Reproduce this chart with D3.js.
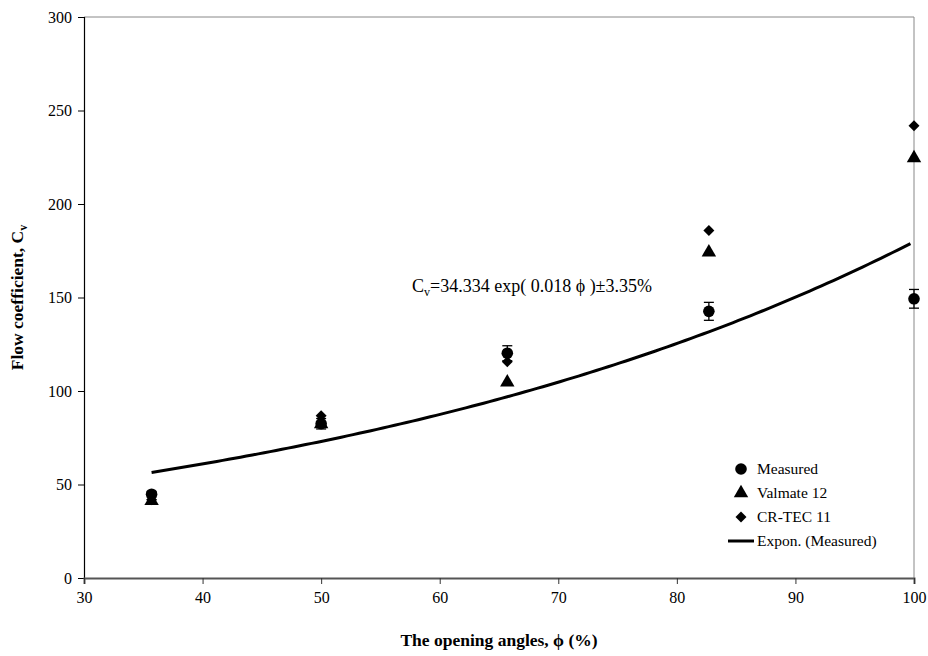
<!DOCTYPE html>
<html><head><meta charset="utf-8">
<script src="https://cdn.jsdelivr.net/npm/d3@7"></script>
<style>body{margin:0;background:#fff}svg{display:block}</style>
</head><body><svg id="c" width="928" height="656"></svg>
<script>
const phi = [35.7, 50, 65.7, 82.7, 100];
const measured = [44.8, 82.5, 120.2, 142.6, 149.3];
const measuredErr = [1.5, 2.8, 4.0, 4.8, 5.0];
const valmate = [41.2, 82.3, 104.6, 174.2, 224.6];
const crtec = [41.8, 86.8, 115.6, 185.8, 241.8];
const xTicks = [30, 40, 50, 60, 70, 80, 90, 100];
const yTicks = [0, 50, 100, 150, 200, 250, 300];
const legendLabels = ["Measured", "Valmate 12", "CR-TEC 11", "Expon. (Measured)"];

const FONT = "'Liberation Serif', 'Times New Roman', serif";
const svg = d3.select("#c");
const M = {l:84, r:914, t:17, b:578};
const x = d3.scaleLinear().domain([30,100]).range([M.l, M.r]);
const y = d3.scaleLinear().domain([0,300]).range([M.b, M.t]);

svg.append("line").attr("x1",M.l).attr("x2",M.r).attr("y1",M.t).attr("y2",M.t).attr("stroke","#888").attr("stroke-width",1);
svg.append("line").attr("x1",M.r).attr("x2",M.r).attr("y1",M.t).attr("y2",M.b).attr("stroke","#888").attr("stroke-width",1);

const yAxis = svg.append("g").attr("transform",`translate(${M.l},0)`)
  .call(d3.axisLeft(y).tickValues(yTicks).tickSize(6).tickPadding(6));
yAxis.select(".domain").attr("stroke","#000").attr("stroke-width",1.2);
yAxis.selectAll("text").attr("fill","#000").style("font-family",FONT).style("font-size","16px");
const xAxis = svg.append("g").attr("transform",`translate(0,${M.b})`)
  .call(d3.axisBottom(x).tickValues(xTicks).tickSize(6).tickPadding(8));
xAxis.select(".domain").attr("stroke","#555").attr("stroke-width",2);
xAxis.selectAll(".tick line").attr("stroke","#333");
xAxis.selectAll("text").attr("fill","#000").style("font-family",FONT).style("font-size","16px");

// trend: exponential regression of measured
const lx = phi, ly = measured.map(Math.log);
const mx = d3.mean(lx), my = d3.mean(ly);
const b = d3.sum(lx.map((v,i)=>(v-mx)*(ly[i]-my))) / d3.sum(lx.map(v=>(v-mx)*(v-mx)));
const a = Math.exp(my - b*mx);
const xs = d3.range(phi[0], phi[phi.length-1]+0.001, 0.5);
svg.append("path").datum(xs)
  .attr("d", d3.line().x(d=>x(d)).y(d=>y(a*Math.exp(b*d))))
  .attr("fill","none").attr("stroke","#000").attr("stroke-width",3);

const tri = d3.symbol().type(d3.symbolTriangle).size(90);
const dia = d3.symbol().type(d3.symbolSquare).size(60);

svg.selectAll(".tri").data(phi).join("path")
  .attr("d", tri).attr("transform",(d,i)=>`translate(${x(d)},${y(valmate[i])})`).attr("fill","#000");
svg.selectAll(".dia").data(phi).join("path")
  .attr("d", dia).attr("transform",(d,i)=>`translate(${x(d)},${y(crtec[i])}) rotate(45)`).attr("fill","#000");
phi.forEach((d,i)=>{
  const cx = x(d), y1 = y(measured[i]+measuredErr[i]), y2 = y(measured[i]-measuredErr[i]);
  const g = svg.append("g").attr("stroke","#000").attr("stroke-width",1.3);
  g.append("line").attr("x1",cx).attr("x2",cx).attr("y1",y1).attr("y2",y2);
  g.append("line").attr("x1",cx-5).attr("x2",cx+5).attr("y1",y1).attr("y2",y1);
  g.append("line").attr("x1",cx-5).attr("x2",cx+5).attr("y1",y2).attr("y2",y2);
});
svg.selectAll(".circ").data(phi).join("circle")
  .attr("cx",d=>x(d)).attr("cy",(d,i)=>y(measured[i])).attr("r",5.8).attr("fill","#000");

// legend
const lg = svg.append("g");
const ly0 = 469, dy = 24, lxm = 741;
lg.append("circle").attr("cx",lxm).attr("cy",ly0).attr("r",5.8).attr("fill","#000");
lg.append("path").attr("d",tri).attr("transform",`translate(${lxm},${ly0+dy})`).attr("fill","#000");
lg.append("path").attr("d",dia).attr("transform",`translate(${lxm},${ly0+2*dy}) rotate(45)`).attr("fill","#000");
lg.append("line").attr("x1",lxm-13).attr("x2",lxm+13).attr("y1",ly0+3*dy).attr("y2",ly0+3*dy).attr("stroke","#000").attr("stroke-width",3);
legendLabels.forEach((t,i)=>{
  lg.append("text").attr("x",757).attr("y",ly0+i*dy).attr("dy","0.35em")
    .style("font-family",FONT).style("font-size","15.5px").text(t);
});

// annotation
const ann = svg.append("text").attr("x",412).attr("y",292).style("font-family",FONT).style("font-size","18px");
ann.append("tspan").text("C");
ann.append("tspan").style("font-size","12px").attr("dy",4).text("v");
ann.append("tspan").attr("dy",-4).text("=34.334 exp( 0.018 \u03d5 )\u00b13.35%");

// axis titles
const yt = svg.append("text").attr("transform",`translate(23,${(M.t+M.b)/2}) rotate(-90)`)
  .attr("text-anchor","middle").style("font-family",FONT).style("font-size","17.5px").attr("font-weight","bold");
yt.append("tspan").text("Flow coefficient, C");
yt.append("tspan").style("font-size","12px").attr("dy",4).text("v");
svg.append("text").attr("x",(M.l+M.r)/2).attr("y",646).attr("text-anchor","middle")
  .style("font-family",FONT).style("font-size","17.5px").attr("font-weight","bold").text("The opening angles, \u03d5 (%)");
</script></body></html>
